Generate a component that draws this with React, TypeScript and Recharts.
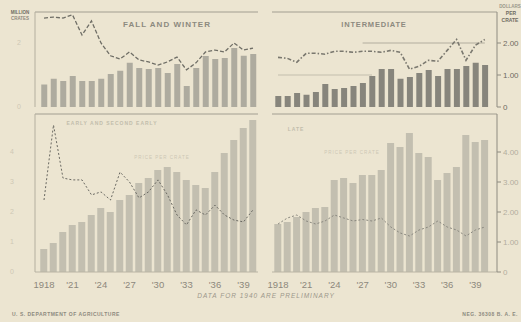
import React from "react";
import { ComposedChart, Bar, Line, XAxis, YAxis, ReferenceLine } from "recharts";

const years = ["1918","1919","1920","1921","1922","1923","1924","1925","1926","1927","1928","1929","1930","1931","1932","1933","1934","1935","1936","1937","1938","1939","1940"];

// million crates
const fallWinterProd = [0.7, 0.88, 0.81, 0.97, 0.81, 0.81, 0.88, 1.03, 1.13, 1.38, 1.22, 1.19, 1.22, 1.06, 1.34, 0.66, 1.22, 1.59, 1.5, 1.53, 1.84, 1.6, 1.66];
const intermediateProd = [0.34, 0.34, 0.44, 0.38, 0.47, 0.72, 0.56, 0.59, 0.66, 0.75, 0.97, 1.19, 1.19, 0.88, 0.94, 1.06, 1.16, 0.97, 1.19, 1.19, 1.28, 1.38, 1.31];
const secondEarlyProd = [0.77, 0.97, 1.33, 1.57, 1.67, 1.9, 2.13, 2.0, 2.4, 2.57, 2.97, 3.13, 3.4, 3.5, 3.33, 3.07, 2.9, 2.8, 3.33, 3.97, 4.4, 4.8, 5.07];
const lateProd = [1.6, 1.67, 1.83, 2.0, 2.13, 2.17, 3.07, 3.13, 2.97, 3.23, 3.23, 3.4, 4.3, 4.17, 4.63, 3.97, 3.83, 3.07, 3.3, 3.5, 4.57, 4.33, 4.4];

// dollars per crate
const fallWinterPrice = [2.78, 2.81, 2.78, 2.88, 2.25, 2.69, 2.0, 1.6, 1.5, 1.72, 1.47, 1.41, 1.31, 1.41, 1.56, 1.16, 1.38, 1.72, 1.78, 1.72, 2.0, 1.78, 1.84];
const intermediatePrice = [1.55, 1.52, 1.4, 1.68, 1.68, 1.65, 1.74, 1.74, 1.71, 1.74, 1.74, 1.71, 1.77, 1.71, 1.18, 1.27, 1.46, 1.43, 1.77, 2.11, 1.46, 1.93, 2.11];
const secondEarlyPrice = [2.4, 4.9, 3.13, 3.07, 3.07, 2.57, 2.67, 2.4, 3.33, 3.0, 2.47, 2.67, 3.07, 2.57, 1.9, 1.57, 2.07, 1.9, 2.23, 1.9, 1.73, 1.67, 2.07];
const latePrice = [1.6, 1.8, 1.9, 1.7, 1.6, 1.7, 1.9, 1.8, 1.7, 1.75, 1.7, 1.8, 1.5, 1.3, 1.2, 1.4, 1.5, 1.7, 1.5, 1.4, 1.2, 1.4, 1.5];

const topPriceTicks = [0, 1, 2];
const bottomPriceTicks = [0, 1, 2, 3, 4];
const leftTicksTop = [0, 2];
const leftTicksBottom = [0, 1, 2, 3, 4];

const build = (prod: number[], price: number[]) =>
  years.map((y, i) => ({ year: y, prod: prod[i], price: price[i] }));

const W = 521;
const H = 322;
const BG = "#ece5d1";
const FONT = "'Liberation Sans', Arial, sans-serif";

type PanelProps = {
  data: { year: string; prod: number; price: number }[];
  side: "left" | "right";
  pos: "top" | "bottom";
  barColor: string;
  barSize: number;
  lineColor: string;
  lineWidth: number;
  dash: string;
  children?: React.ReactNode;
};

const yearFmt = (v: string) => (v === "1918" ? "1918" : "'" + v.slice(2));
const priceFmt = (v: number) => (v === 0 ? "0" : v.toFixed(2));

function Panel({ data, side, pos, barColor, barSize, lineColor, lineWidth, dash, children }: PanelProps) {
  const plotL = side === "left" ? 35 : 272;
  const plotR = side === "left" ? 258 : 497;
  const plotT = pos === "top" ? 12 : 114;
  const plotB = pos === "top" ? 107 : 272;
  const leftW = side === "left" ? 27 : 0;
  const rightW = side === "right" ? 24 : 0;
  const xH = pos === "bottom" ? 22 : 0;
  const domTop = (plotB - plotT) / (pos === "top" ? 32 : 30);
  const pad = side === "left" ? { left: 4.25, right: 0.25 } : { left: 1.3, right: 7.5 };
  return (
    <div style={{ position: "absolute", left: 0, top: 0 }}>
      <ComposedChart
        width={W}
        height={H}
        data={data}
        margin={{ left: plotL - leftW, right: W - plotR - rightW, top: plotT, bottom: H - plotB - xH }}
        barCategoryGap={0}
      >
        <XAxis
          dataKey="year"
          hide={pos === "top"}
          padding={pad}
          interval={2}
          tickFormatter={yearFmt}
          tickLine={false}
          tickSize={0}
          tickMargin={9}
          height={xH}
          axisLine={{ stroke: "#b9b4a4", strokeWidth: 1 }}
          tick={{ fill: "#8c887c", fontSize: 9.5, fontFamily: FONT }}
        />
        <YAxis
          yAxisId="p"
          orientation="left"
          hide={side === "right"}
          width={leftW}
          domain={[0, domTop]}
          ticks={pos === "top" ? leftTicksTop : leftTicksBottom}
          allowDataOverflow
          tickLine={false}
          tickSize={0}
          tickMargin={pos === "top" ? 14 : 21}
          axisLine={{ stroke: "#b4af9f", strokeWidth: 1 }}
          tick={{ fill: "#cfc8b5", fontSize: 7, fontFamily: FONT }}
        />
        <YAxis
          yAxisId="c"
          orientation="right"
          hide={side === "left"}
          width={rightW}
          domain={[0, domTop]}
          ticks={pos === "top" ? topPriceTicks : bottomPriceTicks}
          allowDataOverflow
          tickFormatter={priceFmt}
          tickLine={{ stroke: "#8e8b80" }}
          tickSize={4}
          tickMargin={2}
          axisLine={{ stroke: "#8e8b80", strokeWidth: 1 }}
          tick={{ fill: pos === "top" ? "#6f6c62" : "#b3ae9e", fontSize: 8, fontFamily: FONT }}
        />
        <ReferenceLine yAxisId="p" y={domTop} stroke="#a29e91" strokeWidth={1} ifOverflow="extendDomain" />
        {children}
        <Bar yAxisId="p" dataKey="prod" fill={barColor} barSize={barSize} isAnimationActive={false} />
        <Line
          yAxisId="c"
          dataKey="price"
          type="linear"
          stroke={lineColor}
          strokeWidth={lineWidth}
          strokeDasharray={dash}
          dot={false}
          isAnimationActive={false}
        />
      </ComposedChart>
    </div>
  );
}

const txt = (x: number, y: number, s: string, size: number, fill: string, extra: any = {}) => (
  <text x={x} y={y} fontSize={size} fill={fill} fontFamily={FONT} {...extra}>
    {s}
  </text>
);

export default function App() {
  return (
    <div style={{ position: "absolute", left: 0, top: 0, width: W, height: H, background: BG, overflow: "hidden" }}>
      <Panel data={build(fallWinterProd, fallWinterPrice)} side="left" pos="top" barColor="#aeab9f" barSize={6} lineColor="#6f6e66" lineWidth={1.3} dash="4 2" />
      <Panel data={build(intermediateProd, intermediatePrice)} side="right" pos="top" barColor="#87857c" barSize={6} lineColor="#7a786f" lineWidth={1.6} dash="4 2 1.5 2">
        <ReferenceLine yAxisId="c" segment={[{ x: "1927", y: 2 }, { x: "1940", y: 2 }]} stroke="#b2ad9e" strokeWidth={1} />
        <ReferenceLine yAxisId="c" segment={[{ x: "1918", y: 1 }, { x: "1928", y: 1 }]} stroke="#c3bead" strokeWidth={1} />
      </Panel>
      <Panel data={build(secondEarlyProd, secondEarlyPrice)} side="left" pos="bottom" barColor="#c3bfb0" barSize={7} lineColor="#6a6962" lineWidth={1} dash="2 2" />
      <Panel data={build(lateProd, latePrice)} side="right" pos="bottom" barColor="#c3bfb0" barSize={7} lineColor="#8a887f" lineWidth={1} dash="2 2" />
      <svg width={W} height={H} style={{ position: "absolute", left: 0, top: 0, pointerEvents: "none" }}>
        {txt(20, 14, "MILLION", 4.5, "#6f6c62", { textAnchor: "middle", fontWeight: 700 })}
        {txt(20, 20, "CRATES", 4.5, "#8c887c", { textAnchor: "middle", fontWeight: 700 })}
        {txt(510, 8, "DOLLARS", 4.5, "#9a968a", { textAnchor: "middle", fontWeight: 700 })}
        {txt(511, 15, "PER", 5, "#6f6c62", { textAnchor: "middle", fontWeight: 700 })}
        {txt(510, 22, "CRATE", 5, "#6f6c62", { textAnchor: "middle", fontWeight: 700 })}
        {txt(167, 27, "FALL AND WINTER", 8, "#8d8a7f", { textAnchor: "middle", fontWeight: 700, letterSpacing: 1 })}
        {txt(374, 27, "INTERMEDIATE", 7.5, "#8d8a7f", { textAnchor: "middle", fontWeight: 700, letterSpacing: 0.8 })}
        {txt(112, 125, "EARLY AND SECOND EARLY", 5, "#c2bdac", { textAnchor: "middle", fontWeight: 700, letterSpacing: 1 })}
        {txt(162, 159, "PRICE PER CRATE", 4.5, "#cdc7b5", { textAnchor: "middle", letterSpacing: 1 })}
        {txt(296, 131, "LATE", 5, "#c2bdac", { textAnchor: "middle", fontWeight: 700, letterSpacing: 1 })}
        {txt(352, 154, "PRICE PER CRATE", 4.5, "#cdc7b5", { textAnchor: "middle", letterSpacing: 1 })}
        {txt(266, 298, "DATA FOR 1940 ARE PRELIMINARY", 6.5, "#9c988b", { textAnchor: "middle", fontStyle: "italic", letterSpacing: 1 })}
        {txt(12, 316, "U. S. DEPARTMENT OF AGRICULTURE", 5, "#8d8a7f", { fontWeight: 700, letterSpacing: 0.5 })}
        {txt(518, 316, "NEG. 36308     B. A. E.", 5, "#8d8a7f", { textAnchor: "end", fontWeight: 700, letterSpacing: 0.5 })}
      </svg>
    </div>
  );
}
